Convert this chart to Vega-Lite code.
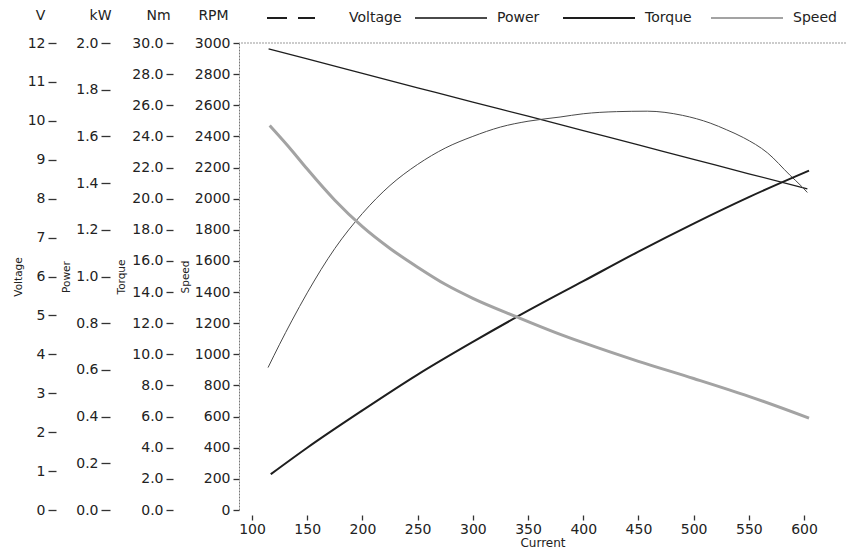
{
  "$schema": "https://vega.github.io/schema/vega-lite/v6.json",
  "width": 607,
  "height": 467,
  "autosize": {"type": "none"},
  "padding": {"left": 239, "top": 43, "right": 0, "bottom": 39},
  "background": "white",
  "config": {
    "font": "DejaVu Sans",
    "view": {"stroke": null},
    "axis": {
      "grid": false,
      "labelFont": "DejaVu Sans",
      "labelFontSize": 14,
      "labelColor": "#222",
      "titleFont": "DejaVu Sans",
      "titleFontWeight": "normal",
      "titleColor": "#222",
      "tickColor": "#333",
      "tickWidth": 1.3,
      "domain": false
    },
    "axisX": {
      "values": [100, 150, 200, 250, 300, 350, 400, 450, 500, 550, 600],
      "tickSize": 5, "offset": 5, "domain": false, "labelPadding": 2,
      "labelFlush": false, "titleFontSize": 12, "titlePadding": 1
    }
  },
  "datasets": {
    "voltage": [
      {"series": "Voltage", "current": 115, "value": 11.85},
      {"series": "Voltage", "current": 150, "value": 11.59},
      {"series": "Voltage", "current": 200, "value": 11.22},
      {"series": "Voltage", "current": 250, "value": 10.85},
      {"series": "Voltage", "current": 300, "value": 10.48},
      {"series": "Voltage", "current": 350, "value": 10.12},
      {"series": "Voltage", "current": 400, "value": 9.75},
      {"series": "Voltage", "current": 450, "value": 9.38},
      {"series": "Voltage", "current": 500, "value": 9.01},
      {"series": "Voltage", "current": 550, "value": 8.64},
      {"series": "Voltage", "current": 603, "value": 8.25}
    ],
    "power": [
      {"series": "Power", "current": 114.5, "value": 0.61},
      {"series": "Power", "current": 125, "value": 0.71},
      {"series": "Power", "current": 136, "value": 0.81},
      {"series": "Power", "current": 150, "value": 0.93},
      {"series": "Power", "current": 175, "value": 1.12},
      {"series": "Power", "current": 200, "value": 1.27},
      {"series": "Power", "current": 225, "value": 1.39},
      {"series": "Power", "current": 250, "value": 1.48},
      {"series": "Power", "current": 275, "value": 1.55},
      {"series": "Power", "current": 300, "value": 1.6},
      {"series": "Power", "current": 325, "value": 1.64},
      {"series": "Power", "current": 350, "value": 1.665},
      {"series": "Power", "current": 379, "value": 1.683},
      {"series": "Power", "current": 400, "value": 1.697},
      {"series": "Power", "current": 430, "value": 1.706},
      {"series": "Power", "current": 458, "value": 1.708},
      {"series": "Power", "current": 490, "value": 1.69},
      {"series": "Power", "current": 515, "value": 1.657},
      {"series": "Power", "current": 530, "value": 1.628},
      {"series": "Power", "current": 545, "value": 1.595},
      {"series": "Power", "current": 567, "value": 1.529},
      {"series": "Power", "current": 587, "value": 1.435},
      {"series": "Power", "current": 598, "value": 1.385},
      {"series": "Power", "current": 603, "value": 1.36}
    ],
    "torque": [
      {"series": "Torque", "current": 117, "value": 2.3},
      {"series": "Torque", "current": 150, "value": 4.0},
      {"series": "Torque", "current": 200, "value": 6.4},
      {"series": "Torque", "current": 250, "value": 8.7},
      {"series": "Torque", "current": 300, "value": 10.8},
      {"series": "Torque", "current": 350, "value": 12.8},
      {"series": "Torque", "current": 400, "value": 14.7},
      {"series": "Torque", "current": 450, "value": 16.6},
      {"series": "Torque", "current": 500, "value": 18.4},
      {"series": "Torque", "current": 550, "value": 20.1},
      {"series": "Torque", "current": 604.5, "value": 21.8}
    ],
    "speed": [
      {"series": "Speed", "current": 116, "value": 2470},
      {"series": "Speed", "current": 136, "value": 2310},
      {"series": "Speed", "current": 150, "value": 2190},
      {"series": "Speed", "current": 175, "value": 1990},
      {"series": "Speed", "current": 200, "value": 1820},
      {"series": "Speed", "current": 225, "value": 1680},
      {"series": "Speed", "current": 250, "value": 1560},
      {"series": "Speed", "current": 275, "value": 1450},
      {"series": "Speed", "current": 300, "value": 1360},
      {"series": "Speed", "current": 340, "value": 1240},
      {"series": "Speed", "current": 375, "value": 1140},
      {"series": "Speed", "current": 400, "value": 1075},
      {"series": "Speed", "current": 450, "value": 955},
      {"series": "Speed", "current": 500, "value": 845},
      {"series": "Speed", "current": 550, "value": 730},
      {"series": "Speed", "current": 604.5, "value": 590}
    ],
    "frame": [{"rpm": 3000}]
  },
  "layer": [
    {
      "layer": [
        {
          "data": {"name": "voltage"},
          "mark": {"type": "line", "interpolate": "monotone", "strokeWidth": 1.3},
          "encoding": {
            "x": {
              "field": "current", "type": "quantitative",
              "scale": {"domain": [88.2, 638], "nice": false, "zero": false},
              "axis": {"title": "Current"}
            },
            "y": {
              "field": "value", "type": "quantitative",
              "scale": {"domain": [0, 12], "nice": false, "zero": true},
              "axis": {
                "orient": "left", "offset": 183,
                "values": [0, 1, 2, 3, 4, 5, 6, 7, 8, 9, 10, 11, 12],
                "format": "d", "tickSize": 8, "labelPadding": 3,
                "title": "Voltage", "titleFontSize": 10.5, "titlePadding": 4
              }
            },
            "color": {
              "field": "series", "type": "nominal",
              "scale": {"domain": ["Voltage", "Power", "Torque", "Speed"], "range": ["#1e1e1e", "#4a4a4a", "#1e1e1e", "#a3a3a3"]},
              "legend": {
                "title": null, "orient": "none", "legendX": 27, "legendY": -62,
                "direction": "horizontal", "columns": 4, "gridAlign": "all",
                "symbolType": "stroke", "symbolSize": 5184, "symbolStrokeWidth": 2,
                "labelOffset": 9, "columnPadding": 9, "padding": 0,
                "labelFont": "DejaVu Sans", "labelFontSize": 14, "labelColor": "#222",
                "encode": {"symbols": {"update": {
                  "strokeDash": {"signal": "datum.value === 'Voltage' ? [20, 11, 17, 300] : [1, 0]"}
                }}}
              }
            }
          }
        },
        {
          "data": {"name": "voltage"},
          "mark": {"type": "line", "opacity": 0},
          "encoding": {
            "x": {"field": "current", "type": "quantitative", "axis": {"title": "Current"}},
            "y": {
              "field": "value", "type": "quantitative",
              "axis": {
                "orient": "left", "offset": 183, "labels": false, "ticks": false, "domain": false,
                "title": "V", "titleAngle": 0, "titleX": -16, "titleY": -28,
                "titleBaseline": "middle", "titleAlign": "center", "titleFontSize": 14
              }
            }
          }
        }
      ],
      "resolve": {"axis": {"y": "independent"}}
    },
    {
      "layer": [
        {
          "data": {"name": "power"},
          "mark": {"type": "line", "interpolate": "monotone", "strokeWidth": 1},
          "encoding": {
            "x": {"field": "current", "type": "quantitative", "axis": {"title": "Current"}},
            "y": {
              "field": "value", "type": "quantitative",
              "scale": {"domain": [0, 2], "nice": false},
              "axis": {
                "orient": "left", "offset": 129,
                "values": [0, 0.2, 0.4, 0.6, 0.8, 1.0, 1.2, 1.4, 1.6, 1.8, 2.0],
                "format": ".1f", "tickSize": 9, "labelPadding": 3,
                "title": "Power", "titleFontSize": 10.5, "titlePadding": 4
              }
            },
            "color": {"field": "series", "type": "nominal"}
          }
        },
        {
          "data": {"name": "power"},
          "mark": {"type": "line", "opacity": 0},
          "encoding": {
            "x": {"field": "current", "type": "quantitative", "axis": {"title": "Current"}},
            "y": {
              "field": "value", "type": "quantitative",
              "axis": {
                "orient": "left", "offset": 129, "labels": false, "ticks": false, "domain": false,
                "title": "kW", "titleAngle": 0, "titleX": -10, "titleY": -28,
                "titleBaseline": "middle", "titleAlign": "center", "titleFontSize": 14
              }
            }
          }
        }
      ],
      "resolve": {"axis": {"y": "independent"}}
    },
    {
      "layer": [
        {
          "data": {"name": "torque"},
          "mark": {"type": "line", "interpolate": "monotone", "strokeWidth": 2},
          "encoding": {
            "x": {"field": "current", "type": "quantitative", "axis": {"title": "Current"}},
            "y": {
              "field": "value", "type": "quantitative",
              "scale": {"domain": [0, 30], "nice": false},
              "axis": {
                "orient": "left", "offset": 66,
                "values": [0, 2, 4, 6, 8, 10, 12, 14, 16, 18, 20, 22, 24, 26, 28, 30],
                "format": ".1f", "tickSize": 7, "labelPadding": 3,
                "title": "Torque", "titleFontSize": 10.5, "titlePadding": 5
              }
            },
            "color": {"field": "series", "type": "nominal"}
          }
        },
        {
          "data": {"name": "torque"},
          "mark": {"type": "line", "opacity": 0},
          "encoding": {
            "x": {"field": "current", "type": "quantitative", "axis": {"title": "Current"}},
            "y": {
              "field": "value", "type": "quantitative",
              "axis": {
                "orient": "left", "offset": 66, "labels": false, "ticks": false, "domain": false,
                "title": "Nm", "titleAngle": 0, "titleX": -15, "titleY": -28,
                "titleBaseline": "middle", "titleAlign": "center", "titleFontSize": 14
              }
            }
          }
        }
      ],
      "resolve": {"axis": {"y": "independent"}}
    },
    {
      "layer": [
        {
          "data": {"name": "speed"},
          "mark": {"type": "line", "interpolate": "monotone", "strokeWidth": 3},
          "encoding": {
            "x": {"field": "current", "type": "quantitative", "axis": {"title": "Current"}},
            "y": {
              "field": "value", "type": "quantitative",
              "scale": {"domain": [0, 3000], "nice": false},
              "axis": {
                "orient": "left", "offset": 0,
                "values": [0, 200, 400, 600, 800, 1000, 1200, 1400, 1600, 1800, 2000, 2200, 2400, 2600, 2800, 3000],
                "format": "d", "tickSize": 6, "labelPadding": 3,
                "domain": true, "domainColor": "#777", "domainDash": [2, 1], "domainWidth": 1,
                "title": "Speed", "titleFontSize": 10.5, "titlePadding": 4
              }
            },
            "color": {"field": "series", "type": "nominal"}
          }
        },
        {
          "data": {"name": "frame"},
          "mark": {"type": "rule", "color": "#999", "strokeWidth": 1, "strokeDash": [2, 1]},
          "encoding": {
            "y": {
              "field": "rpm", "type": "quantitative",
              "axis": {
                "orient": "left", "offset": 0, "labels": false, "ticks": false, "domain": false,
                "title": "RPM", "titleAngle": 0, "titleX": -26, "titleY": -28,
                "titleBaseline": "middle", "titleAlign": "center", "titleFontSize": 14
              }
            }
          }
        }
      ],
      "resolve": {"axis": {"y": "independent"}}
    }
  ],
  "resolve": {"scale": {"y": "independent"}}
}
